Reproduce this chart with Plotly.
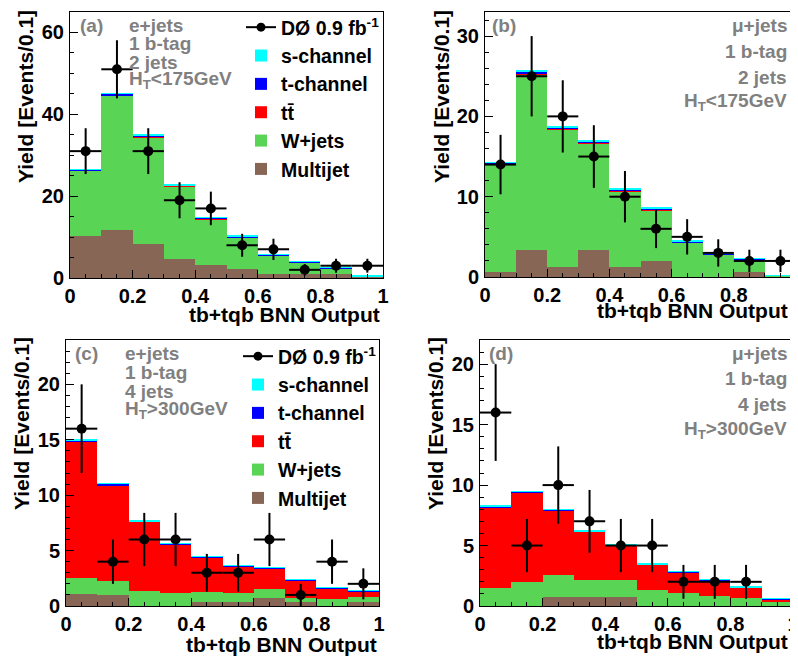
import plotly.graph_objects as go

# ---------------- data ----------------
bin_centers = [0.05, 0.15, 0.25, 0.35, 0.45, 0.55, 0.65, 0.75, 0.85, 0.95]
x_ticks = [0, 0.2, 0.4, 0.6, 0.8, 1]
x_tick_labels = ["0", "0.2", "0.4", "0.6", "0.8", "1"]

# (a) e+jets, 1 b-tag, 2 jets, HT<175GeV
multijet_a = [10.2, 11.7, 8.3, 4.6, 3.1, 2.2, 1.0, 1.0, 1.0, 0.4]
wjets_a = [16.0, 32.8, 26.0, 17.7, 11.3, 7.7, 4.5, 2.8, 1.3, 0.05]
ttbar_a = [0.1, 0.2, 0.2, 0.2, 0.1, 0.1, 0.1, 0.1, 0.05, 0.0]
tchan_a = [0.2, 0.3, 0.3, 0.2, 0.2, 0.2, 0.15, 0.15, 0.1, 0.03]
schan_a = [0.1, 0.15, 0.15, 0.1, 0.1, 0.1, 0.05, 0.05, 0.05, 0.02]
data_a = [31, 51, 31, 19, 17, 8, 7, 2, 3, 3]
err_a = [5.6, 7.1, 5.6, 4.4, 4.1, 2.8, 2.6, 1.4, 1.7, 1.7]

# (b) mu+jets, 1 b-tag, 2 jets, HT<175GeV
multijet_b = [0.6, 3.4, 1.3, 3.4, 1.3, 2.0, 0.0, 0.0, 0.6, 0.0]
wjets_b = [13.4, 21.8, 17.1, 13.2, 9.4, 6.3, 4.3, 2.8, 1.55, 0.13]
ttbar_b = [0.1, 0.2, 0.1, 0.15, 0.1, 0.1, 0.05, 0.05, 0.05, 0.0]
tchan_b = [0.15, 0.2, 0.15, 0.15, 0.15, 0.15, 0.1, 0.1, 0.1, 0.05]
schan_b = [0.05, 0.1, 0.05, 0.1, 0.05, 0.05, 0.05, 0.05, 0.05, 0.02]
data_b = [14, 25, 20, 15, 10, 6, 5, 3, 2, 2]
err_b = [3.7, 5.0, 4.5, 3.9, 3.2, 2.4, 2.2, 1.7, 1.4, 1.4]

# (c) e+jets, 1 b-tag, 4 jets, HT>300GeV
multijet_c = [1.05, 1.0, 0.0, 0.0, 0.4, 0.4, 0.7, 0.4, 0.0, 0.35]
wjets_c = [1.45, 1.3, 1.35, 1.2, 0.85, 0.8, 0.85, 0.3, 0.65, 0.45]
ttbar_c = [12.35, 8.61, 6.23, 4.38, 3.12, 2.38, 1.86, 1.62, 0.93, 0.53]
tchan_c = [0.1, 0.1, 0.08, 0.06, 0.08, 0.06, 0.06, 0.05, 0.05, 0.05]
schan_c = [0.05, 0.04, 0.04, 0.03, 0.03, 0.03, 0.03, 0.03, 0.02, 0.02]
data_c = [16, 4, 6, 6, 3, 3, 6, 1, 4, 2]
err_c = [4.0, 2.0, 2.4, 2.4, 1.7, 1.7, 2.4, 1.0, 2.0, 1.4]

# (d) mu+jets, 1 b-tag, 4 jets, HT>300GeV
multijet_d = [0.0, 0.0, 0.75, 0.75, 0.75, 0.0, 0.0, 0.0, 0.0, 0.0]
wjets_d = [1.5, 2.0, 1.8, 1.4, 1.4, 1.3, 1.1, 0.85, 0.7, 0.3]
ttbar_d = [6.68, 7.38, 5.35, 3.99, 2.82, 2.12, 1.66, 1.26, 0.79, 0.23]
tchan_d = [0.08, 0.08, 0.06, 0.06, 0.05, 0.05, 0.06, 0.06, 0.06, 0.05]
schan_d = [0.04, 0.04, 0.04, 0.03, 0.03, 0.03, 0.03, 0.03, 0.03, 0.02]
data_d = [16, 5, 10, 7, 5, 5, 2, 2, 2]
err_d = [4.0, 2.2, 3.2, 2.6, 2.2, 2.2, 1.4, 1.4, 1.4]

# ---------------- style ----------------
FONT = "Liberation Sans, Arial, sans-serif"
GRAY = "#808080"
C_MJ, C_WJ, C_TT, C_TC, C_SC = "#876656", "#59D454", "#FF0000", "#0000FF", "#00FFFF"
OFF = 8                      # page body margin of the html page
W, H = 798 - OFF, 656 - OFF  # figure size that fits the window


def px_x(p):
    return (p - OFF) / W


def px_y(p):
    return 1 - (p - OFF) / H


fig = go.Figure()

panels = [
    dict(ax="", frame=(70, 383, 12, 278), ymax=65, dtick=20, minor=5,
         comps=(multijet_a, wjets_a, ttbar_a, tchan_a, schan_a),
         data=data_a, err=err_a, legend="legend"),
    dict(ax="2", frame=(485, 796, 12, 277), ymax=33, dtick=10, minor=2,
         comps=(multijet_b, wjets_b, ttbar_b, tchan_b, schan_b),
         data=data_b, err=err_b, legend=None),
    dict(ax="3", frame=(66, 379, 340, 606), ymax=24, dtick=5, minor=1,
         comps=(multijet_c, wjets_c, ttbar_c, tchan_c, schan_c),
         data=data_c, err=err_c, legend="legend2"),
    dict(ax="4", frame=(480, 793, 340, 606), ymax=22, dtick=5, minor=1,
         comps=(multijet_d, wjets_d, ttbar_d, tchan_d, schan_d),
         data=data_d, err=err_d, legend=None),
]

names = ["Multijet", "W+jets", "t" + "t\u0304", "t-channel", "s-channel"]
colors = [C_MJ, C_WJ, C_TT, C_TC, C_SC]
ranks = [6, 5, 4, 3, 2]

for p in panels:
    xa = "x" + p["ax"]
    ya = "y" + p["ax"]
    show = p["legend"] is not None
    for vals, nm, col, rk in zip(p["comps"], names, colors, ranks):
        fig.add_trace(go.Bar(
            x=bin_centers, y=vals, width=0.1, name=nm,
            marker=dict(color=col, line=dict(width=0)),
            xaxis=xa, yaxis=ya, showlegend=show,
            legend=p["legend"] if show else None, legendrank=rk,
        ))
    fig.add_trace(go.Scatter(
        x=bin_centers[:len(p["data"])], y=p["data"], mode="markers",
        marker=dict(color="black", size=10),
        error_y=dict(type="data", array=p["err"], color="black", thickness=2, width=0),
        error_x=dict(type="constant", value=0.05, color="black", thickness=2, width=0),
        xaxis=xa, yaxis=ya, showlegend=False,
    ))
    if show:
        fig.add_trace(go.Scatter(
            x=[None], y=[None], mode="lines+markers",
            name="DØ 0.9 fb<sup>-1</sup>",
            marker=dict(color="black", size=9), line=dict(color="black", width=2),
            xaxis=xa, yaxis=ya, legend=p["legend"], legendrank=1,
        ))

    x0, x1, y0, y1 = p["frame"]
    axis_common = dict(
        showline=True, linecolor="black", linewidth=1, mirror=True,
        ticks="inside", ticklen=8, tickcolor="black", tickwidth=1,
        showgrid=False, zeroline=False, automargin=False,
        tickfont=dict(family=FONT, size=20, color="black", weight="bold"),
    )
    fig.layout["xaxis" + p["ax"]] = dict(
        domain=[px_x(x0), px_x(x1)], range=[0, 1], anchor=ya,
        tickvals=x_ticks, ticktext=x_tick_labels, ticklabeloverflow="allow",
        minor=dict(dtick=0.05, ticks="inside", ticklen=4, tickcolor="black"),
        **axis_common,
    )
    fig.layout["yaxis" + p["ax"]] = dict(
        domain=[px_y(y1), px_y(y0)], range=[0, p["ymax"]], anchor=xa,
        dtick=p["dtick"], tick0=0,
        minor=dict(dtick=p["minor"], ticks="inside", ticklen=4, tickcolor="black"),
        ticklabelstandoff=1,
        **axis_common,
    )

annotations = []


def ann(text, x, y, xanchor="center", color="black", size=19, angle=0):
    annotations.append(dict(
        text=text, x=px_x(x), y=px_y(y), xref="paper", yref="paper",
        xanchor=xanchor, yanchor="middle", showarrow=False, textangle=angle,
        font=dict(family=FONT, size=size, color=color, weight="bold"),
    ))


# axis titles
for (xr, yx, xt, yt) in [(382, 25, 314, 97), (790, 441, 310, 97),
                         (379, 21, 644, 424), (790, 435, 641, 424)]:
    ann("tb+tqb BNN Output", xr, xt, xanchor="right", size=21)
    ann("Yield [Events/0.1]", yx, yt, size=21, angle=-90)

# panel labels
ann("(a)", 78, 25, xanchor="left", color=GRAY)
for t, y in zip(["e+jets", "1 b-tag", "2 jets", "H<sub>T</sub>&lt;175GeV"], [25, 43, 62, 80]):
    ann(t, 127, y, xanchor="left", color=GRAY)

ann("(b)", 490, 25, xanchor="left", color=GRAY)
for t, y in zip(["μ+jets", "1 b-tag", "2 jets", "H<sub>T</sub>&lt;175GeV"], [25, 52, 77, 102]):
    ann(t, 789, y, xanchor="right", color=GRAY)

ann("(c)", 73, 353, xanchor="left", color=GRAY)
for t, y in zip(["e+jets", "1 b-tag", "4 jets", "H<sub>T</sub>&gt;300GeV"], [353, 373, 391, 410]):
    ann(t, 123, y, xanchor="left", color=GRAY)

ann("(d)", 487, 353, xanchor="left", color=GRAY)
for t, y in zip(["μ+jets", "1 b-tag", "4 jets", "H<sub>T</sub>&gt;300GeV"], [353, 378, 405, 430]):
    ann(t, 789, y, xanchor="right", color=GRAY)

legend_common = dict(
    bgcolor="rgba(0,0,0,0)", borderwidth=0, itemwidth=30,
    font=dict(family=FONT, size=19.5, color="black", weight="bold"),
    xanchor="left", yanchor="top", traceorder="normal",
    itemclick=False, itemdoubleclick=False,
)

fig.update_layout(
    template="none",
    width=W, height=H,
    margin=dict(l=0, r=0, t=0, b=0, autoexpand=False),
    paper_bgcolor="white", plot_bgcolor="white",
    barmode="stack", bargap=0,
    annotations=annotations,
    legend=dict(x=px_x(241), y=px_y(8), **legend_common),
    legend2=dict(x=px_x(238), y=px_y(337), **legend_common),
    font=dict(family=FONT),
)

fig.write_html("out.html")
